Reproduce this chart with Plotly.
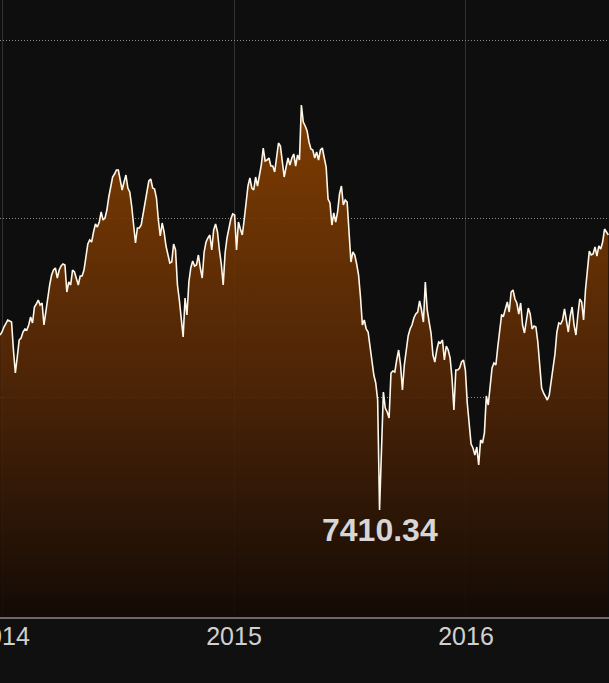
import pandas as pd
import plotly.graph_objects as go

# index closes, sampled every 3 days from late Dec 2013 to Aug 2016
start_date = "2013-12-29"
closes = [
    8460, 8478, 8508, 8532, 8550, 8544, 8538, 8370, 8232, 8328,
    8430, 8442, 8478, 8496, 8490, 8520, 8568, 8532, 8628, 8646,
    8670, 8640, 8652, 8520, 8610, 8688, 8760, 8820, 8850, 8862,
    8802, 8850, 8874, 8886, 8880, 8718, 8778, 8760, 8850, 8838,
    8802, 8760, 8814, 8814, 8850, 8940, 9006, 9030, 9018, 9078,
    9126, 9108, 9138, 9198, 9150, 9162, 9210, 9288, 9360, 9408,
    9426, 9450, 9450, 9390, 9330, 9378, 9420, 9342, 9318, 9234,
    9120, 9012, 9102, 9102, 9120, 9186, 9240, 9318, 9384, 9396,
    9342, 9336, 9282, 9150, 9054, 9132, 9078, 8994, 8940, 8892,
    8898, 9006, 8970, 8760, 8670, 8562, 8448, 8682, 8580, 8778,
    8862, 8904, 8874, 8880, 8940, 8862, 8802, 8958, 9018, 9042,
    9060, 8970, 9090, 9126, 9078, 8970, 8886, 8760, 8952, 9042,
    9102, 9156, 9186, 9180, 8970, 9138, 9096, 9060, 9150, 9270,
    9354, 9402, 9342, 9330, 9408, 9354, 9408, 9480, 9582, 9504,
    9510, 9522, 9474, 9474, 9438, 9534, 9612, 9594, 9486, 9408,
    9468, 9522, 9480, 9522, 9546, 9474, 9540, 9510, 9840, 9738,
    9714, 9684, 9618, 9576, 9570, 9522, 9558, 9510, 9570, 9582,
    9522, 9468, 9276, 9252, 9120, 9192, 9138, 9198, 9306, 9354,
    9240, 9270, 9258, 9078, 8898, 8958, 8940, 8886, 8820, 8688,
    8520, 8550, 8496, 8478, 8394, 8292, 8220, 8172, 8070, 7410.34,
    7830, 8118, 8022, 7998, 7962, 8232, 8244, 8238, 8310, 8370,
    8280, 8130, 8280, 8358, 8454, 8496, 8520, 8562, 8586, 8598,
    8664, 8610, 8538, 8778, 8610, 8538, 8472, 8340, 8298, 8370,
    8418, 8412, 8430, 8310, 8394, 8370, 8322, 8202, 8010, 8250,
    8250, 8262, 8298, 8310, 8250, 8052, 7902, 7806, 7782, 7740,
    7788, 7680, 7830, 7812, 7872, 8094, 8040, 8142, 8262, 8292,
    8280, 8388, 8502, 8580, 8574, 8610, 8658, 8598, 8718, 8730,
    8676, 8652, 8586, 8652, 8520, 8472, 8550, 8622, 8586, 8496,
    8514, 8508, 8418, 8262, 8142, 8112, 8094, 8070, 8100, 8190,
    8280, 8346, 8478, 8532, 8526, 8550, 8616, 8538, 8478, 8574,
    8628, 8520, 8460, 8580, 8676, 8658, 8550, 8730, 8850, 8964,
    8940, 8946, 8988, 8934, 8994, 8976, 9018, 9096, 9078, 9060,
]
dates = pd.date_range(start_date, periods=len(closes), freq="3D")

grid_levels = [8088, 9159, 10230]
year_ticks = ["2014-01-01", "2015-01-01", "2016-01-01"]
year_labels = ["2014", "2015", "2016"]
y_range = [6768, 10470]
x_range = ["2013-12-28 20:00", "2016-08-13"]

low_idx = closes.index(min(closes))

fig = go.Figure()
fig.add_trace(go.Scatter(
    x=dates, y=closes, mode="lines",
    line=dict(color="#fff8ea", width=1.6),
    fill="tozeroy",
    fillgradient=dict(
        type="vertical",
        start=y_range[0], stop=max(closes),
        colorscale=[[0, "rgba(20,10,4,0.9)"],
                    [0.45, "rgba(82,38,6,0.9)"],
                    [1, "rgba(140,66,0,0.9)"]],
    ),
    hoverinfo="skip",
))

fig.add_annotation(
    x=dates[low_idx], y=closes[low_idx],
    text="<b>%.2f</b>" % closes[low_idx],
    showarrow=False, yanchor="middle", yshift=-20,
    font=dict(family="Liberation Sans", size=32, color="#d6d6d6"),
)

fig.update_layout(
    width=609, height=683,
    margin=dict(l=0, r=0, t=0, b=66, pad=0, autoexpand=False),
    paper_bgcolor="#101010",
    plot_bgcolor="#0e0e0e",
    showlegend=False,
    font=dict(family="Liberation Sans", color="#d0d0d0"),
)
fig.update_xaxes(
    range=x_range, automargin=False,
    tickvals=year_ticks, ticktext=year_labels,
    ticks="", ticklabelstandoff=-4,
    ticklabeloverflow="allow",
    tickfont=dict(size=25, color="#d0d0d0"),
    showgrid=True, gridcolor="#313131", gridwidth=1,
    showline=True, linecolor="#6a6a6a", linewidth=2,
    zeroline=False,
)
fig.update_yaxes(
    range=y_range, automargin=False,
    tickvals=grid_levels, showticklabels=False,
    showgrid=True, gridcolor="#8c8c8c", gridwidth=1, griddash="1px,2px",
    zeroline=False, showline=False,
)

# page body has a default 8px margin; drop it so the chart sits at 0,0
fig.write_html("out.html", config=dict(displayModeBar=False),
               post_script="document.body.style.margin='0';")
